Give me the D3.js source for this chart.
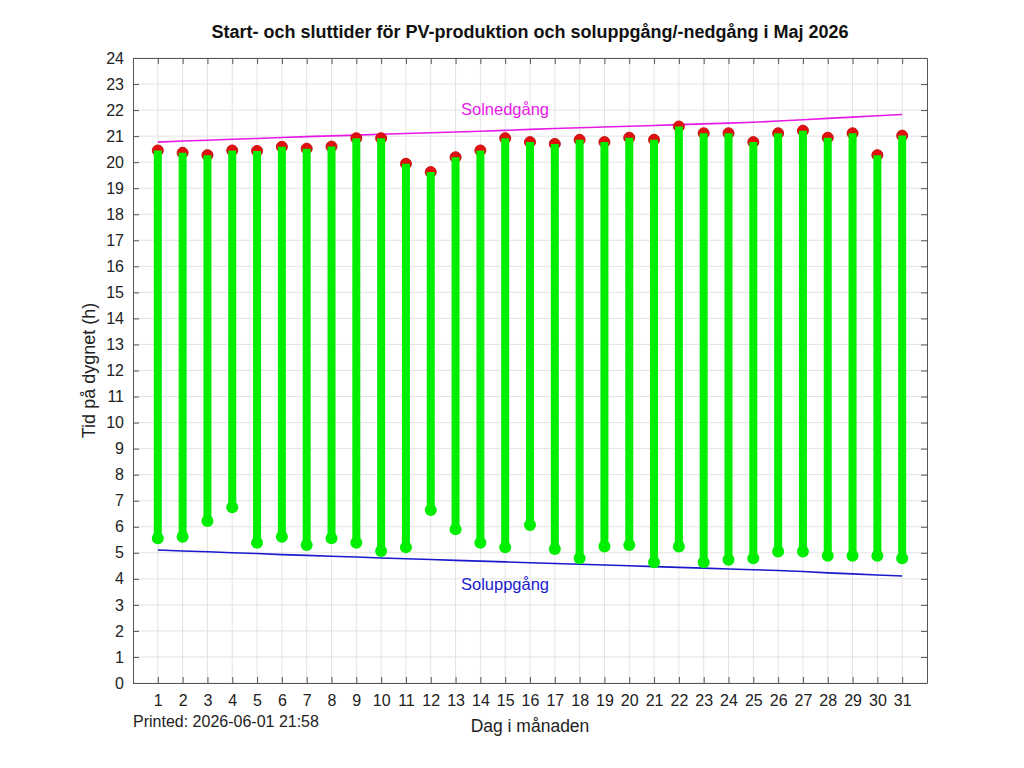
<!DOCTYPE html>
<html>
<head>
<meta charset="utf-8">
<script src="https://cdn.jsdelivr.net/npm/d3@7"></script>
<style>
  body { margin: 0; background: #fff; }
  text { font-family: "Liberation Sans", Arial, sans-serif; }
</style>
</head>
<body>
<script>
"use strict";

const days = d3.range(1, 32);
// start of PV production (h)
const startTimes = [5.56, 5.62, 6.22, 6.75, 5.39, 5.62, 5.30, 5.56, 5.39, 5.07,
  5.21, 6.64, 5.90, 5.39, 5.21, 6.07, 5.15, 4.79, 5.24, 5.30,
  4.64, 5.24, 4.64, 4.73, 4.79, 5.05, 5.05, 4.89, 4.89, 4.89, 4.79];
// end of PV production (h)
const endTimes = [20.45, 20.36, 20.27, 20.45, 20.43, 20.59, 20.52, 20.60, 20.92, 20.92,
  19.94, 19.62, 20.19, 20.45, 20.92, 20.77, 20.70, 20.86, 20.77, 20.94,
  20.86, 21.37, 21.11, 21.11, 20.77, 21.11, 21.21, 20.94, 21.11, 20.27, 21.02];
const sunrise = [5.11, 5.07, 5.04, 5.00, 4.97, 4.93, 4.90, 4.87, 4.84, 4.80,
  4.77, 4.74, 4.71, 4.68, 4.65, 4.62, 4.59, 4.56, 4.53, 4.50,
  4.47, 4.44, 4.41, 4.38, 4.35, 4.32, 4.28, 4.23, 4.19, 4.15, 4.11];
const sunset = [20.77, 20.81, 20.84, 20.88, 20.91, 20.95, 20.98, 21.01, 21.04, 21.07,
  21.10, 21.13, 21.16, 21.19, 21.22, 21.26, 21.29, 21.32, 21.35, 21.38,
  21.41, 21.44, 21.47, 21.50, 21.53, 21.58, 21.63, 21.68, 21.73, 21.78, 21.83];
const hourTicks = d3.range(0, 25);

const m = { width: 1024, height: 768, left: 133, right: 97, top: 58, bottom: 85 };

const svg = d3.select("body").append("svg")
  .attr("width", m.width)
  .attr("height", m.height);

const x = d3.scaleLinear().domain([0, 32]).range([m.left, m.width - m.right]);
const y = d3.scaleLinear().domain([0, 24]).range([m.height - m.bottom, m.top]);

const g = svg.append("g");

// grid
g.selectAll(".vgrid").data(days).enter().append("line")
  .attr("x1", d => x(d)).attr("x2", d => x(d))
  .attr("y1", y(0)).attr("y2", y(24))
  .attr("stroke", "#e3e3e3").attr("stroke-width", 1);
g.selectAll(".hgrid").data(hourTicks).enter().append("line")
  .attr("x1", x(0)).attr("x2", x(32))
  .attr("y1", d => y(d)).attr("y2", d => y(d))
  .attr("stroke", "#e3e3e3").attr("stroke-width", 1);

// axes (ticks inward)
const axisStyle = sel => {
  sel.selectAll("path").attr("stroke", "#555");
  sel.selectAll("line").attr("stroke", "#555");
  sel.selectAll("text").attr("font-size", 16).attr("fill", "#222")
    .attr("font-family", "Liberation Sans, Arial, sans-serif");
};

svg.append("g").attr("transform", `translate(0,${y(0)})`)
  .call(d3.axisBottom(x).tickValues(days).tickSizeInner(-6).tickSizeOuter(0).tickPadding(12))
  .call(axisStyle);
svg.append("g").attr("transform", `translate(0,${y(24)})`)
  .call(d3.axisTop(x).tickValues(days).tickSizeInner(-6).tickSizeOuter(0).tickFormat(""))
  .call(axisStyle);
svg.append("g").attr("transform", `translate(${x(0)},0)`)
  .call(d3.axisLeft(y).tickValues(hourTicks).tickSizeInner(-6).tickSizeOuter(0).tickPadding(9))
  .call(axisStyle);
svg.append("g").attr("transform", `translate(${x(32)},0)`)
  .call(d3.axisRight(y).tickValues(hourTicks).tickSizeInner(-6).tickSizeOuter(0).tickFormat(""))
  .call(axisStyle);

// sunrise / sunset lines
const line = d3.line().x((d, i) => x(days[i])).y(d => y(d));
g.append("path").datum(sunset).attr("d", line)
  .attr("fill", "none").attr("stroke", "#e619e6").attr("stroke-width", 1.6);
g.append("path").datum(sunrise).attr("d", line)
  .attr("fill", "none").attr("stroke", "#1a1acc").attr("stroke-width", 1.6);

// end markers (red)
g.selectAll(".endDot").data(endTimes).enter().append("circle")
  .attr("cx", (d, i) => x(days[i])).attr("cy", d => y(d))
  .attr("r", 5.5).attr("fill", "#e01010").attr("stroke", "#c81010");

// stems
g.selectAll(".stem").data(days).enter().append("line")
  .attr("x1", d => x(d)).attr("x2", d => x(d))
  .attr("y1", (d, i) => y(startTimes[i])).attr("y2", (d, i) => y(endTimes[i]))
  .attr("stroke", "#00ee00").attr("stroke-width", 8);

// start markers (green)
g.selectAll(".startDot").data(startTimes).enter().append("circle")
  .attr("cx", (d, i) => x(days[i])).attr("cy", d => y(d))
  .attr("r", 6).attr("fill", "#00ee00");

// labels
svg.append("text").attr("x", 505).attr("y", 115)
  .attr("text-anchor", "middle").attr("font-size", 16.5).attr("fill", "#e619e6")
  .text("Solnedgång");
svg.append("text").attr("x", 505).attr("y", 590)
  .attr("text-anchor", "middle").attr("font-size", 16.5).attr("fill", "#1a1acc")
  .text("Soluppgång");

svg.append("text").attr("x", 530).attr("y", 38)
  .attr("text-anchor", "middle").attr("font-size", 18).attr("font-weight", "bold")
  .attr("fill", "#111")
  .text("Start- och sluttider för PV-produktion och soluppgång/-nedgång i Maj 2026");

svg.append("text").attr("x", 530).attr("y", 732)
  .attr("text-anchor", "middle").attr("font-size", 17.5).attr("fill", "#222")
  .text("Dag i månaden");

svg.append("text")
  .attr("transform", `translate(95,${(y(0) + y(24)) / 2}) rotate(-90)`)
  .attr("text-anchor", "middle").attr("font-size", 18).attr("fill", "#222")
  .text("Tid på dygnet (h)");

svg.append("text").attr("x", 133).attr("y", 727)
  .attr("font-size", 16).attr("fill", "#222")
  .text("Printed: 2026-06-01 21:58");
</script>
</body>
</html>
